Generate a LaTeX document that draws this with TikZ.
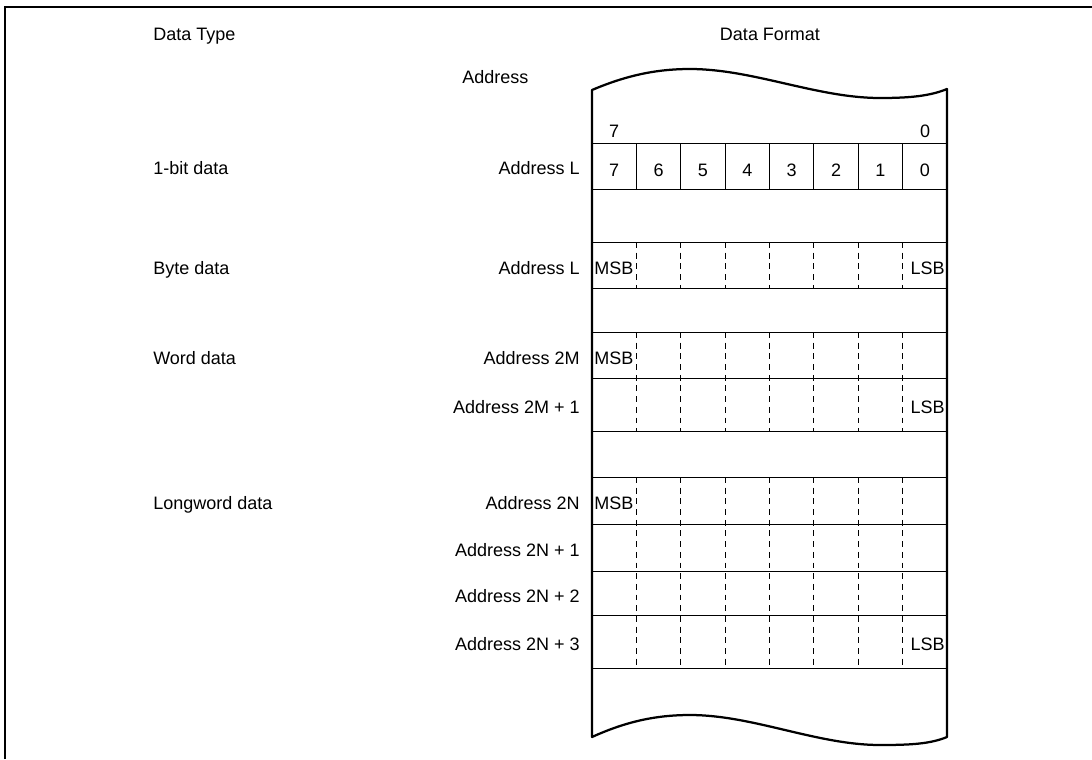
\documentclass[tikz,border=0pt]{standalone}
\usepackage{fontspec}
\setmainfont{Liberation Sans}
\usepackage{tikz}
\usetikzlibrary{positioning}

\begin{document}
\begin{tikzpicture}[
    x=0.025cm, y=-0.025cm,
    every node/.style={font=\fontsize{12.8}{15}\selectfont, inner sep=0pt},
    typelbl/.style={anchor=base west},
    addrlbl/.style={anchor=base east},
    outline/.style={draw=black, line width=1.6pt, line join=round},
    rowline/.style={draw=black, line width=0.6pt},
    bitline/.style={draw=black, line width=0.6pt, dash pattern=on 4.2pt off 3.4pt},
    frameline/.style={draw=black, line width=1.8pt}
]
\useasboundingbox (0,0) rectangle (1092,759);

% -------- Page frame (left and top edge only) --------
\draw[frameline] (5,759) -- (5,7) -- (1092,7);

% -------- Column headings --------
\node[typelbl]             (hdtype)   at (153,40) {Data Type};
\node[anchor=base]         (hdformat) at (770,40) {Data Format};
\node[typelbl]             (hdaddr)   at (462,83) {Address};

% -------- Memory strip with torn top and bottom --------
\draw[outline] (592,90) .. controls (625,76) and (655,69) .. (690,69)
               .. controls (753,69) and (817,98) .. (880,98)
               .. controls (910,98) and (930,96) .. (947,89)
               -- (947,737)
               .. controls (930,744) and (910,745) .. (880,745)
               .. controls (817,745) and (753,715) .. (690,715)
               .. controls (655,715) and (625,722) .. (592,737)
               -- cycle;

% -------- Row boundaries --------
\foreach \ry in {143,189,242,288,332,378,431,477,524,571,615,668}
  \draw[rowline] (592,\ry) -- (947,\ry);

% -------- 1-bit data: bit numbers --------
\node[anchor=base] (msbnum) at (614,137) {7};
\node[anchor=base] (lsbnum) at (925,137) {0};
\foreach \k in {0,...,7} {
  \pgfmathtruncatemacro\bitno{7-\k}
  \node[anchor=base] (bit\k) at ({614.2+44.375*\k},176) {\bitno};
}
\foreach \k in {1,...,7}
  \draw[rowline] ({592+44.375*\k},143) -- ({592+44.375*\k},189);

% -------- Dashed bit dividers --------
\foreach \k in {1,...,7} {
  \draw[bitline] ({592+44.375*\k},242) -- ({592+44.375*\k},288);
  \draw[bitline] ({592+44.375*\k},332) -- ({592+44.375*\k},431);
  \draw[bitline] ({592+44.375*\k},477) -- ({592+44.375*\k},668);
}

% -------- Data type labels --------
\node[typelbl] (tbit)  at (153,174) {1-bit data};
\node[typelbl] (tbyte) at (153,274) {Byte data};
\node[typelbl] (tword) at (153,364) {Word data};
\node[typelbl] (tlong) at (153,509) {Longword data};

% -------- Address labels --------
\node[addrlbl] (abit)   at (580,174) {Address L};
\node[addrlbl] (abyte)  at (580,274) {Address L};
\node[addrlbl] (aword0) at (580,364) {Address 2M};
\node[addrlbl] (aword1) at (580,413) {Address 2M + 1};
\node[addrlbl] (along0) at (580,509) {Address 2N};
\node[addrlbl] (along1) at (580,556) {Address 2N + 1};
\node[addrlbl] (along2) at (580,602) {Address 2N + 2};
\node[addrlbl] (along3) at (580,650) {Address 2N + 3};

% -------- MSB / LSB marks --------
\node[typelbl] (msbbyte) at (594,274) {MSB};
\node[addrlbl] (lsbbyte) at (945,274) {LSB};
\node[typelbl] (msbword) at (594,364) {MSB};
\node[addrlbl] (lsbword) at (945,413) {LSB};
\node[typelbl] (msblong) at (594,509) {MSB};
\node[addrlbl] (lsblong) at (945,650) {LSB};

\end{tikzpicture}
\end{document}
